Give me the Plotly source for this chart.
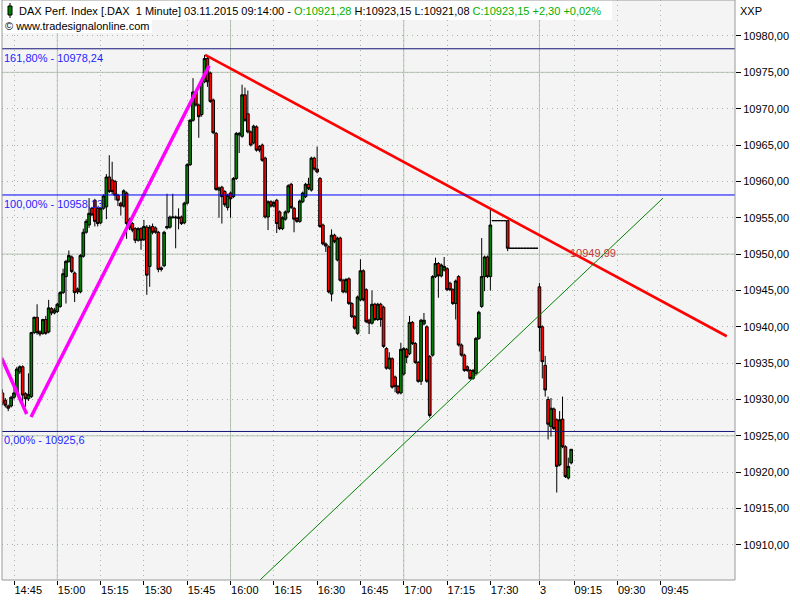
import plotly.graph_objects as go

# ---------------- data ----------------
# Day 1 (02.11.2015): bar numbers -4 .. 181 (1-minute bars, bar 0 = 14:45)
day1_first_bar = -4
open1 = [
    10930.9, 10929.9, 10929.1, 10929.1, 10930.3, 10931.0, 10933.8, 10934.5, 10930.8, 10930.1,
    10930.4, 10939.2, 10941.3, 10939.3, 10939.1, 10941.0, 10939.3, 10942.5, 10941.9, 10942.1,
    10942.8, 10944.7, 10946.9, 10949.0, 10949.6, 10947.4, 10945.2, 10944.8, 10949.7, 10953.0,
    10954.0, 10956.3, 10957.4, 10956.3, 10954.3, 10956.3, 10956.5, 10960.6, 10960.2, 10960.0,
    10958.1, 10957.0, 10956.6, 10958.4, 10954.7, 10954.2, 10953.5, 10951.9, 10953.5, 10952.0,
    10953.7, 10948.3, 10953.8, 10953.6, 10953.0, 10948.1, 10948.4, 10953.6, 10953.7, 10955.0,
    10955.1, 10954.9, 10955.1, 10954.3, 10957.0, 10962.3, 10968.4, 10972.3, 10970.5, 10969.2,
    10973.7, 10976.9, 10974.9, 10971.2, 10966.6, 10958.8, 10959.2, 10958.6, 10956.4, 10958.4,
    10957.9, 10960.4, 10966.4, 10966.2, 10971.9, 10969.3, 10966.8, 10965.3, 10967.5, 10964.8,
    10965.0, 10963.2, 10955.1, 10957.2, 10956.6, 10957.4, 10955.8, 10953.5, 10954.8, 10955.8,
    10959.6, 10956.3, 10954.9, 10954.5, 10957.2, 10957.9, 10959.6, 10958.8, 10963.2, 10961.7,
    10960.4, 10954.0, 10951.4, 10951.0, 10944.5, 10952.6, 10949.2, 10952.2, 10946.4, 10944.8,
    10946.6, 10943.2, 10941.4, 10939.1, 10943.7, 10947.7, 10945.1, 10940.9, 10940.5, 10943.1,
    10941.0, 10943.1, 10942.7, 10937.0, 10934.3, 10935.6, 10933.1, 10931.8, 10930.9, 10933.5,
    10936.9, 10936.3, 10940.6, 10937.7, 10935.1, 10932.5, 10940.4, 10940.0, 10935.9, 10936.1,
    10946.9, 10948.7, 10947.0, 10947.8, 10948.0, 10946.0, 10945.1, 10943.2, 10946.9, 10937.5,
    10936.1, 10934.5, 10934.0, 10932.9, 10933.6, 10938.4, 10942.8, 10946.9, 10949.6, 10946.9,
    10954.6, 10954.6, 10954.6, 10954.6, 10954.6, 10954.6, 10950.8, 10950.8, 10950.8, 10950.8,
    10950.8, 10950.8, 10950.8, 10950.8, 10950.8, 10950.8,
]
high1 = [
    10931.4, 10930.2, 10929.3, 10930.5, 10931.7, 10934.5, 10934.7, 10934.7, 10931.0, 10933.6,
    10939.3, 10941.4, 10943.1, 10939.5, 10941.1, 10941.5, 10943.7, 10942.7, 10942.6, 10943.3,
    10944.9, 10948.0, 10949.2, 10950.5, 10949.8, 10947.6, 10945.4, 10950.0, 10953.5, 10954.8,
    10957.7, 10956.5, 10957.6, 10956.5, 10956.5, 10958.2, 10961.0, 10963.6, 10962.7, 10960.2,
    10958.3, 10957.2, 10958.9, 10958.6, 10955.0, 10954.4, 10953.7, 10953.7, 10953.7, 10954.7,
    10954.0, 10954.0, 10954.2, 10953.8, 10953.2, 10948.3, 10953.2, 10958.3, 10955.3, 10958.3,
    10955.3, 10956.3, 10955.3, 10957.2, 10962.5, 10968.6, 10974.2, 10972.5, 10970.7, 10973.9,
    10977.4, 10977.2, 10975.1, 10971.4, 10966.8, 10959.3, 10959.4, 10958.8, 10958.3, 10958.6,
    10960.6, 10966.8, 10966.8, 10973.3, 10972.9, 10972.5, 10967.0, 10967.8, 10967.7, 10965.0,
    10965.2, 10963.4, 10957.4, 10957.4, 10957.3, 10957.6, 10956.0, 10955.2, 10956.0, 10959.6,
    10959.8, 10956.5, 10955.1, 10957.5, 10958.6, 10959.8, 10960.5, 10963.4, 10963.4, 10964.8,
    10960.6, 10954.2, 10951.6, 10951.2, 10953.4, 10952.8, 10952.4, 10952.4, 10946.6, 10946.7,
    10946.8, 10943.4, 10941.6, 10944.3, 10949.3, 10947.9, 10945.3, 10941.1, 10945.0, 10943.3,
    10943.3, 10943.3, 10942.9, 10937.2, 10936.5, 10935.8, 10933.3, 10932.0, 10937.8, 10937.2,
    10937.1, 10941.5, 10940.8, 10937.9, 10935.3, 10941.1, 10941.9, 10940.2, 10936.1, 10947.1,
    10949.5, 10948.9, 10948.7, 10949.6, 10948.2, 10946.2, 10945.3, 10946.5, 10947.1, 10937.7,
    10936.3, 10934.7, 10934.2, 10934.2, 10938.6, 10942.2, 10952.2, 10949.8, 10949.8, 10956.1,
    10954.6, 10954.6, 10954.6, 10954.6, 10954.6, 10954.6, 10950.8, 10950.8, 10950.8, 10950.8,
    10950.8, 10950.8, 10950.8, 10950.8, 10950.8, 10950.8,
]
low1 = [
    10929.2, 10928.9, 10928.4, 10928.9, 10930.0, 10930.8, 10933.5, 10929.7, 10929.0, 10929.8,
    10930.2, 10939.0, 10938.9, 10938.7, 10938.9, 10938.9, 10939.1, 10941.6, 10941.7, 10941.9,
    10942.6, 10944.5, 10943.2, 10948.8, 10947.4, 10943.4, 10944.5, 10944.6, 10949.5, 10952.8,
    10953.6, 10955.2, 10953.8, 10953.8, 10954.1, 10956.1, 10954.8, 10958.4, 10958.2, 10957.4,
    10956.6, 10955.3, 10956.4, 10952.1, 10953.3, 10953.0, 10951.5, 10951.7, 10950.6, 10951.8,
    10944.4, 10945.5, 10952.7, 10952.8, 10947.5, 10947.6, 10948.2, 10953.4, 10953.5, 10954.9,
    10950.8, 10953.4, 10954.0, 10954.1, 10956.8, 10962.1, 10968.2, 10970.3, 10966.0, 10968.9,
    10973.5, 10973.0, 10970.8, 10966.5, 10958.7, 10955.0, 10954.2, 10956.5, 10956.0, 10955.0,
    10957.7, 10960.2, 10963.9, 10966.0, 10968.2, 10966.6, 10964.8, 10965.1, 10964.1, 10964.0,
    10962.7, 10954.9, 10953.3, 10956.4, 10956.4, 10952.9, 10953.3, 10953.3, 10954.6, 10955.6,
    10956.2, 10953.0, 10954.3, 10954.3, 10957.0, 10957.7, 10958.8, 10958.6, 10961.5, 10961.1,
    10953.6, 10951.2, 10950.3, 10944.6, 10943.5, 10951.5, 10949.0, 10946.2, 10944.6, 10944.6,
    10943.0, 10941.2, 10939.6, 10938.9, 10943.5, 10943.5, 10940.5, 10939.0, 10940.3, 10940.8,
    10940.8, 10940.0, 10937.1, 10934.1, 10934.1, 10931.5, 10931.0, 10930.7, 10930.7, 10933.3,
    10935.0, 10936.1, 10937.5, 10934.9, 10932.3, 10932.0, 10940.2, 10932.3, 10927.5, 10935.9,
    10946.7, 10944.0, 10946.8, 10947.6, 10944.9, 10944.9, 10943.0, 10941.0, 10937.3, 10935.9,
    10933.8, 10933.8, 10932.7, 10932.7, 10933.4, 10938.2, 10942.6, 10944.9, 10946.7, 10945.0,
    10954.6, 10954.6, 10954.6, 10954.6, 10954.6, 10950.4, 10950.8, 10950.8, 10950.8, 10950.8,
    10950.8, 10950.8, 10950.8, 10950.8, 10950.8, 10950.8,
]
close1 = [
    10929.5, 10929.2, 10928.8, 10930.3, 10930.9, 10934.2, 10934.5, 10930.6, 10930.1, 10930.7,
    10939.2, 10941.3, 10939.2, 10939.0, 10941.0, 10939.1, 10942.6, 10941.9, 10942.3, 10943.1,
    10944.7, 10947.3, 10949.0, 10949.8, 10947.6, 10944.7, 10944.8, 10949.8, 10953.0, 10954.5,
    10955.6, 10955.4, 10954.5, 10954.2, 10956.3, 10958.0, 10960.6, 10958.6, 10958.6, 10958.1,
    10957.4, 10956.6, 10958.7, 10954.2, 10953.6, 10953.3, 10951.9, 10953.5, 10951.9, 10953.8,
    10947.1, 10953.7, 10953.0, 10953.0, 10947.9, 10947.9, 10953.0, 10953.8, 10955.1, 10955.1,
    10955.0, 10955.1, 10954.2, 10957.0, 10962.3, 10968.4, 10972.3, 10970.5, 10968.9, 10973.7,
    10976.9, 10973.7, 10971.0, 10966.7, 10958.9, 10959.1, 10957.9, 10956.8, 10958.1, 10957.6,
    10960.4, 10966.6, 10966.6, 10971.9, 10968.4, 10966.8, 10965.0, 10967.6, 10964.3, 10964.3,
    10962.9, 10955.1, 10957.2, 10956.6, 10957.1, 10954.2, 10953.5, 10955.0, 10955.8, 10959.4,
    10956.4, 10954.8, 10954.5, 10957.3, 10958.4, 10959.6, 10959.0, 10963.2, 10961.7, 10961.3,
    10953.8, 10951.4, 10951.1, 10944.8, 10952.6, 10951.7, 10952.2, 10946.4, 10944.8, 10946.5,
    10943.2, 10941.4, 10939.8, 10944.1, 10947.7, 10943.7, 10940.7, 10940.5, 10943.1, 10941.0,
    10943.1, 10941.0, 10937.3, 10934.3, 10935.7, 10931.7, 10931.8, 10930.9, 10936.9, 10937.0,
    10935.8, 10940.6, 10937.7, 10935.1, 10932.5, 10940.9, 10940.9, 10932.5, 10927.8, 10946.9,
    10948.7, 10947.0, 10948.5, 10948.3, 10945.1, 10945.1, 10943.2, 10946.3, 10937.5, 10936.1,
    10934.0, 10934.0, 10932.9, 10934.0, 10938.4, 10942.0, 10946.9, 10949.6, 10946.9, 10954.0,
    10954.6, 10954.6, 10954.6, 10954.6, 10954.6, 10950.8, 10950.8, 10950.8, 10950.8, 10950.8,
    10950.8, 10950.8, 10950.8, 10950.8, 10950.8, 10950.8,
]

# Day 2 (03.11.2015): bars 182 .. 193 (09:03 .. 09:14)
day2_first_bar = 182
open2 = [10945.5, 10940.0, 10934.7, 10930.0, 10926.3, 10928.7, 10927.2, 10921.0, 10927.3, 10923.5, 10919.2, 10921.28]
high2 = [10946.0, 10940.2, 10936.0, 10930.4, 10930.2, 10928.9, 10927.4, 10928.4, 10930.4, 10923.7, 10922.0, 10923.15]
low2 = [10936.6, 10932.9, 10930.4, 10924.5, 10924.9, 10925.8, 10917.2, 10920.8, 10923.3, 10919.2, 10919.0, 10921.08]
close2 = [10939.9, 10935.2, 10931.3, 10926.6, 10928.8, 10926.0, 10920.8, 10927.2, 10923.5, 10919.4, 10920.8, 10923.15]

# time axis ticks (bar numbers) and labels
time_ticks = [0, 15, 30, 45, 60, 75, 90, 105, 120, 135, 150, 165, 182, 194, 209, 224]
time_labels = ["14:45", "15:00", "15:15", "15:30", "15:45", "16:00", "16:15", "16:30",
               "16:45", "17:00", "17:15", "17:30", "3", "09:15", "09:30", "09:45"]
hour_ticks = [15, 75, 135, 182]

price_ticks = [10910, 10915, 10920, 10925, 10930, 10935, 10940, 10945,
               10950, 10955, 10960, 10965, 10970, 10975, 10980]
price_labels = ["10910,00", "10915,00", "10920,00", "10925,00", "10930,00", "10935,00",
                "10940,00", "10945,00", "10950,00", "10955,00", "10960,00", "10965,00",
                "10970,00", "10975,00", "10980,00"]
major_price_lines = [10925, 10950, 10975]

# Fibonacci levels
fib_levels = [10978.24, 10958.13, 10925.6]
fib_labels = ["161,80% - 10978,24", "100,00% - 10958,13", "0,00% - 10925,6"]

# drawing tools (bar number, price)
wave1_x = [-4.3, 4.4]
wave1_y = [10935.7, 10928.0]
wave2_x = [5.9, 67.6]
wave2_y = [10927.6, 10975.9]
resist_x = [66.2, 246.9]
resist_y = [10977.4, 10938.7]
support_x = [85.2, 224.8]
support_y = [10905.17, 10957.7]
resist_value_label = "10949,99"
resist_label_pos = (200.5, 10950.1)

x_range = [-4.157, 249.74]
y_range = [10905.17, 10984.95]

# ---------------- figure ----------------
FONT = "Liberation Sans"
bars_x = list(range(day1_first_bar, day1_first_bar + len(open1))) + \
         list(range(day2_first_bar, day2_first_bar + len(open2)))

fig = go.Figure()
fig.add_trace(go.Candlestick(
    x=bars_x,
    open=open1 + open2, high=high1 + high2, low=low1 + low2, close=close1 + close2,
    increasing=dict(line=dict(color="black", width=1), fillcolor="#008000"),
    decreasing=dict(line=dict(color="black", width=1), fillcolor="#ff0000"),
    whiskerwidth=0, showlegend=False, hoverinfo="skip",
))
for xs, ys, col, w in [(wave1_x, wave1_y, "#ff00ff", 3.5), (wave2_x, wave2_y, "#ff00ff", 3.5),
                       (resist_x, resist_y, "#ff0000", 2.6), (support_x, support_y, "#008000", 1)]:
    fig.add_trace(go.Scatter(x=xs, y=ys, mode="lines", line=dict(color=col, width=w),
                             showlegend=False, hoverinfo="skip", cliponaxis=True))

shapes = []
# solid grid lines
for t in hour_ticks:
    shapes.append(dict(type="line", xref="x", yref="paper", x0=t, x1=t, y0=0, y1=1,
                       line=dict(color="#b4c6b4", width=1), layer="below"))
for p in major_price_lines:
    shapes.append(dict(type="line", xref="paper", yref="y", x0=0, x1=1, y0=p, y1=p,
                       line=dict(color="#b4c6b4", width=1), layer="below"))
# fibonacci lines
fib_colors = ["#14147a", "#0000ff", "#14147a"]
for lv, col in zip(fib_levels, fib_colors):
    shapes.append(dict(type="line", xref="paper", yref="y", x0=0, x1=1, y0=lv, y1=lv,
                       line=dict(color=col, width=1), layer="above"))

W, H = 800, 600
L, R, T, B = 2, 65, 0, 20
PW, PH = W - L - R, H - T - B


def px(xp):
    return (xp - L) / PW


def py(yp):
    return 1 - (yp - T) / PH


# header background boxes
shapes.append(dict(type="rect", xref="paper", yref="paper", x0=px(0), x1=px(612), y0=py(20), y1=py(0),
                   fillcolor="white", line=dict(width=0), layer="above"))
shapes.append(dict(type="rect", xref="paper", yref="paper", x0=px(0), x1=px(152), y0=py(33), y1=py(20),
                   fillcolor="white", line=dict(width=0), layer="above"))
# small candle icon in header
shapes.append(dict(type="line", xref="paper", yref="paper", x0=px(10), x1=px(10), y0=py(18), y1=py(3),
                   line=dict(color="black", width=1), layer="above"))
shapes.append(dict(type="rect", xref="paper", yref="paper", x0=px(8), x1=px(12), y0=py(15), y1=py(6),
                   fillcolor="#008000", line=dict(color="black", width=1), layer="above"))
# frame
shapes.append(dict(type="rect", xref="paper", yref="paper", x0=0, x1=1, y0=0, y1=1,
                   line=dict(color="#9a9a9a", width=1), layer="above"))

annotations = []
green = "#00b000"
header = ("DAX Perf. Index [.DAX  1 Minute] 03.11.2015 09:14:00 - "
          f"<span style='color:{green}'>O:10921,28</span> H:10923,15 L:10921,08 "
          f"<span style='color:{green}'>C:10923,15 +2,30 +0,02%</span>")
annotations.append(dict(xref="paper", yref="paper", x=px(17), y=py(11), text=header, showarrow=False,
                        xanchor="left", yanchor="middle", font=dict(family=FONT, size=11, color="black")))
annotations.append(dict(xref="paper", yref="paper", x=px(3), y=py(26), text="© www.tradesignalonline.com",
                        showarrow=False, xanchor="left", yanchor="middle",
                        font=dict(family=FONT, size=11, color="black")))
annotations.append(dict(xref="paper", yref="paper", x=px(738), y=py(11), text="XXP", showarrow=False,
                        xanchor="left", yanchor="middle", font=dict(family=FONT, size=11, color="black")))
for lv, lab in zip(fib_levels, fib_labels):
    annotations.append(dict(xref="paper", yref="y", x=px(2), y=lv, text=lab, showarrow=False,
                            xanchor="left", yanchor="top", yshift=-1,
                            font=dict(family=FONT, size=11, color="#1f1fff")))
annotations.append(dict(xref="x", yref="y", x=resist_label_pos[0], y=resist_label_pos[1],
                        text=resist_value_label, showarrow=False, xanchor="center", yanchor="middle",
                        font=dict(family=FONT, size=11, color="#c03838")))

fig.update_layout(
    width=W, height=H, margin=dict(l=L, r=R, t=T, b=B, pad=0),
    paper_bgcolor="white", plot_bgcolor="#f4f4f4",
    font=dict(family=FONT, size=11, color="black"),
    boxgap=0.08, boxgroupgap=0,
    shapes=shapes, annotations=annotations, showlegend=False,
    xaxis=dict(range=x_range, tickvals=time_ticks, ticktext=time_labels, ticks="outside",
               ticklen=4, tickcolor="black", ticklabelposition="outside right",
               showgrid=True, gridcolor="#a8b4a8", griddash="1px,4px", gridwidth=1,
               zeroline=False, showline=False, rangeslider=dict(visible=False),
               tickfont=dict(family=FONT, size=11, color="black")),
    yaxis=dict(range=y_range, side="right", tickvals=price_ticks, ticktext=price_labels,
               ticks="outside", ticklen=5, tickcolor="black",
               showgrid=True, gridcolor="#a8b4a8", griddash="1px,4px", gridwidth=1,
               zeroline=False, showline=False,
               tickfont=dict(family=FONT, size=11, color="black")),
)

fig.write_html("out.html", config={"displayModeBar": False, "staticPlot": True},
               post_script="document.body.style.margin='0px';document.body.style.overflow='hidden';")
